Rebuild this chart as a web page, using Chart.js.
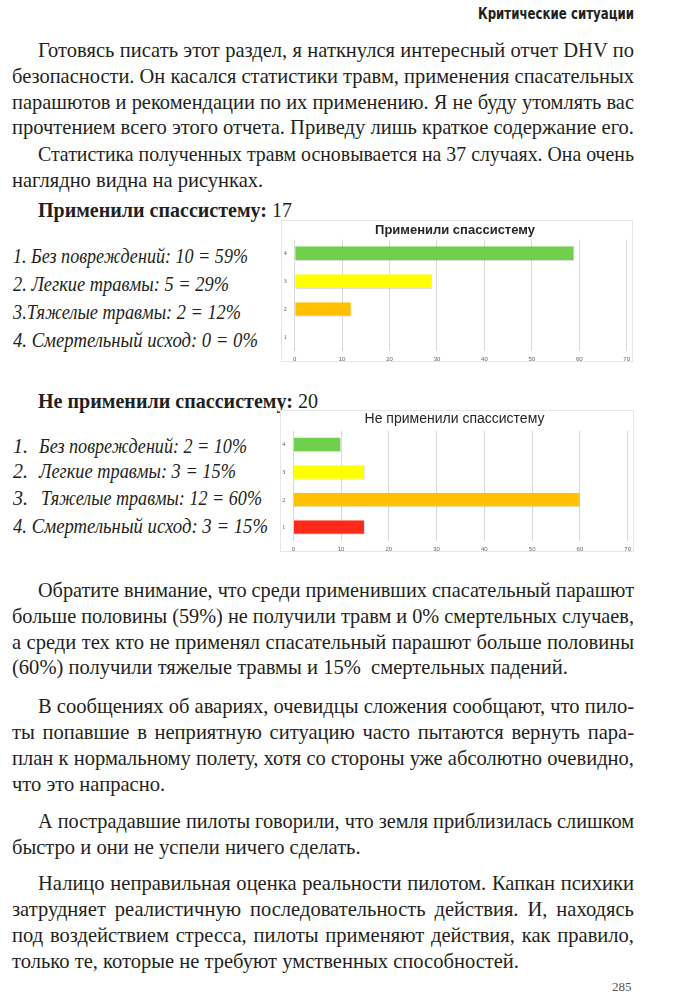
<!DOCTYPE html>
<html lang="ru">
<head>
<meta charset="utf-8">
<script src="https://cdn.jsdelivr.net/npm/chart.js@4"></script>
<style>
  html, body { margin: 0; padding: 0; background: #fff; }
  #page { position: relative; width: 674px; height: 1000px; overflow: hidden;
          font-family: "Liberation Serif", "Times New Roman", serif; color: #231f20; }
  .ln { position: absolute; white-space: pre; font-size: 21px; line-height: 26px;
        transform-origin: 0 0; }
  .it { font-style: italic; font-size: 20px; }
  #runhead { position: absolute; top: 4px; white-space: pre; transform-origin: 0 0;
             font-family: "Liberation Sans Narrow", "DejaVu Sans Condensed", sans-serif;
             font-weight: bold; font-size: 15px; line-height: 20px; color: #231f20; }
  #folio { position: absolute; top: 979px; left: 612px; font-size: 13px; color: #555; }
  .box { position: absolute; border: 1px solid #e6e6e6; box-sizing: border-box; }
  .box canvas { position: absolute; left: 0; top: 0; }
</style>
</head>
<body>
<div id="page">
  <div id="runhead" class="fit" data-l="478" data-r="634">Критические ситуации</div>

  <div class="ln j" data-l="38" style="top:37px">Готовясь писать этот раздел, я наткнулся интересный отчет DHV по</div>
  <div class="ln j" data-l="12" style="top:63px">безопасности. Он касался статистики травм, применения спасательных</div>
  <div class="ln j" data-l="12" style="top:89px">парашютов и рекомендации по их применению. Я не буду утомлять вас</div>
  <div class="ln j" data-l="12" style="top:114px">прочтением всего этого отчета. Приведу лишь краткое содержание его.</div>

  <div class="ln j" data-l="38" style="top:141px">Статистика полученных травм основывается на 37 случаях. Она очень</div>
  <div class="ln last" data-l="12" style="top:167px">наглядно видна на рисунках.</div>

  <div class="ln fit" data-l="38" data-r="292" style="top:197px"><b>Применили спассистему:</b> 17</div>
  <div class="ln it fit" data-l="13" data-r="248" style="top:243px">1. Без повреждений: 10 = 59%</div>
  <div class="ln it fit" data-l="13" data-r="229" style="top:271px">2. Легкие травмы: 5 = 29%</div>
  <div class="ln it fit" data-l="13" data-r="241" style="top:299px">3.Тяжелые травмы: 2 = 12%</div>
  <div class="ln it fit" data-l="13" data-r="258" style="top:327px">4. Смертельный исход: 0 = 0%</div>

  <div class="ln fit" data-l="38" data-r="318" style="top:388px"><b>Не применили спассистему:</b> 20</div>
  <div class="ln it" style="top:433px;left:13px">1.</div>
  <div class="ln it fit" data-l="39" data-r="247" style="top:433px">Без повреждений: 2 = 10%</div>
  <div class="ln it" style="top:458px;left:13px">2.</div>
  <div class="ln it fit" data-l="39" data-r="236" style="top:458px">Легкие травмы: 3 = 15%</div>
  <div class="ln it" style="top:485px;left:13px">3.</div>
  <div class="ln it fit" data-l="41" data-r="262" style="top:485px">Тяжелые травмы: 12 = 60%</div>
  <div class="ln it fit" data-l="13" data-r="268" style="top:513px">4. Смертельный исход: 3 = 15%</div>

  <div class="ln j" data-l="38" style="top:577px">Обратите внимание, что среди применивших спасательный парашют</div>
  <div class="ln j" data-l="12" style="top:603px">больше половины (59%) не получили травм и 0% смертельных случаев,</div>
  <div class="ln j" data-l="12" style="top:629px">а среди тех кто не применял спасательный парашют больше половины</div>
  <div class="ln last" data-l="12" style="top:654px">(60%) получили тяжелые травмы и 15%  смертельных падений.</div>

  <div class="ln j" data-l="38" style="top:693px">В сообщениях об авариях, очевидцы сложения сообщают, что пило-</div>
  <div class="ln j" data-l="12" style="top:719px">ты попавшие в неприятную ситуацию часто пытаются вернуть пара-</div>
  <div class="ln j" data-l="12" style="top:745px">план к нормальному полету, хотя со стороны уже абсолютно очевидно,</div>
  <div class="ln last" data-l="12" style="top:771px">что это напрасно.</div>

  <div class="ln j" data-l="38" style="top:808px">А пострадавшие пилоты говорили, что земля приблизилась слишком</div>
  <div class="ln last" data-l="12" style="top:834px">быстро и они не успели ничего сделать.</div>

  <div class="ln j" data-l="38" style="top:870px">Налицо неправильная оценка реальности пилотом. Капкан психики</div>
  <div class="ln j" data-l="12" style="top:896px">затрудняет реалистичную последовательность действия. И, находясь</div>
  <div class="ln j" data-l="12" style="top:922px">под воздействием стресса, пилоты применяют действия, как правило,</div>
  <div class="ln last" data-l="12" style="top:948px">только те, которые не требуют умственных способностей.</div>

  <div id="folio">285</div>

  <div class="box" style="left:281px;top:220px;width:352px;height:142px">
    <canvas id="usedChart" width="352" height="142"></canvas>
  </div>
  <div class="box" style="left:280px;top:410px;width:354px;height:142px">
    <canvas id="notUsedChart" width="354" height="142"></canvas>
  </div>
</div>

<script>
// ---- data ----
const categories = ["4", "3", "2", "1"];          // top to bottom
const usedValues = [59, 29, 12, 0];               // % who used the reserve
const notUsedValues = [10, 15, 60, 15];           // % who did not
const barColors = ["#70d04b", "#ffff00", "#ffc000", "#ff2a1a"];
const xMax = 70;
const xStep = 10;

// ---- text layout: one common squeeze for body lines, then justify ----
const textRight = 634;
const lines = Array.from(document.querySelectorAll("[data-l]"));
lines.forEach(el => {
    el.style.left = el.dataset.l + "px";
    el._w = el.getBoundingClientRect().width;
});
const full = lines.filter(el => el.classList.contains("j"));
const r = full.map(el => (textRight - el.dataset.l) / el._w).sort((a, b) => a - b);
const bodyScale = Math.min(1.04, r[Math.floor(r.length / 2)]);

lines.forEach(el => {
    let s;
    if (el.classList.contains("j")) {
        const target = textRight - el.dataset.l;
        s = Math.min(bodyScale, target / el._w);
        const spaces = (el.textContent.match(/ /g) || []).length;
        if (spaces) el.style.wordSpacing = ((target / s - el._w) / spaces) + "px";
    } else if (el.classList.contains("last")) {
        s = bodyScale;
    } else {
        s = (el.dataset.r - el.dataset.l) / el._w;
    }
    el.style.transform = "scaleX(" + s + ")";
});

// ---- charts ----
function makeChart(id, title, values, look) {
    return new Chart(document.getElementById(id), {
        type: "bar",
        data: {
            labels: categories,
            datasets: [{
                data: values,
                backgroundColor: barColors,
                borderColor: "rgba(0,0,0,0.13)",
                borderWidth: { top: 0, left: 0, right: 1, bottom: 1 },
                borderSkipped: false,
                barPercentage: 0.75,
                categoryPercentage: 0.7
            }]
        },
        options: {
            indexAxis: "y",
            responsive: false,
            animation: false,
            layout: { padding: { top: 0, right: look.right, bottom: 0, left: 0 } },
            plugins: {
                legend: { display: false },
                tooltip: { enabled: false },
                title: {
                    display: true,
                    text: title,
                    color: "#262626",
                    font: { family: "Liberation Sans", size: look.titleSize, weight: look.titleWeight, lineHeight: 1 },
                    padding: look.titlePad
                }
            },
            scales: {
                x: {
                    min: 0,
                    max: xMax,
                    ticks: { stepSize: xStep, padding: 4, color: "#666",
                             font: { family: "Liberation Sans", size: 6 } },
                    grid: { color: "#d9d9d9", drawTicks: false },
                    border: { display: false },
                    afterFit: s => { s.height = look.xHeight; }
                },
                y: {
                    ticks: { padding: 8, color: "#555",
                             font: { family: "Liberation Serif", size: 6 } },
                    grid: { display: false, drawTicks: false },
                    border: { display: false },
                    afterFit: s => { s.width = look.yWidth; }
                }
            }
        }
    });
}

makeChart("usedChart", "Применили спассистему", usedValues, {
    right: 6, titleSize: 13, titleWeight: "bold",
    titlePad: { top: 2.5, bottom: 3.2 }, xHeight: 11.5, yWidth: 12.7
});
makeChart("notUsedChart", "Не применили спассистему", notUsedValues, {
    right: 7, titleSize: 14, titleWeight: "normal",
    titlePad: { top: 1.5, bottom: 4.5 }, xHeight: 11, yWidth: 12.3
});
</script>
</body>
</html>
